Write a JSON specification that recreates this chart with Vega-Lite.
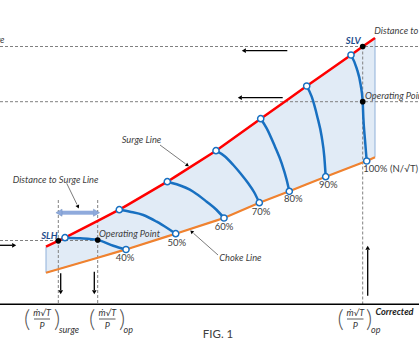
{
  "$schema": "https://vega.github.io/schema/vega-lite/v6.json",
  "width": 419,
  "height": 350,
  "autosize": {"type": "none"},
  "padding": 0,
  "background": "white",
  "config": {"view": {"stroke": null}, "text": {"font": "Lato"}},
  "datasets": {
    "band": [
      {"x": 46, "surge": 246.7, "choke": 272.7},
      {"x": 65, "surge": 237.7, "choke": 267.2},
      {"x": 97.7, "surge": 220.8, "choke": 257.7},
      {"x": 119.3, "surge": 209.7, "choke": 251.4},
      {"x": 126, "surge": 205.8, "choke": 249.5},
      {"x": 167.3, "surge": 181.7, "choke": 236.4},
      {"x": 175.7, "surge": 176.4, "choke": 233.7},
      {"x": 216, "surge": 150.7, "choke": 220.6},
      {"x": 224, "surge": 145.0, "choke": 218},
      {"x": 259.3, "surge": 119.7, "choke": 202.7},
      {"x": 260.7, "surge": 118.7, "choke": 202.2},
      {"x": 289.3, "surge": 98.4, "choke": 191.3},
      {"x": 306.7, "surge": 86, "choke": 184.3},
      {"x": 325.7, "surge": 72.7, "choke": 176.7},
      {"x": 351, "surge": 55, "choke": 167.0},
      {"x": 362.7, "surge": 46.5, "choke": 162.5},
      {"x": 366.7, "surge": 43.7, "choke": 161},
      {"x": 375, "surge": 38, "choke": 157.3}
    ],
    "speeds": [
      {"speed": "40", "x": 65, "y": 237.7},
      {"speed": "40", "x": 80, "y": 238.3},
      {"speed": "40", "x": 97.7, "y": 240},
      {"speed": "40", "x": 113.3, "y": 245.7},
      {"speed": "40", "x": 126, "y": 249.5},
      {"speed": "50", "x": 119.3, "y": 209.7},
      {"speed": "50", "x": 130, "y": 211.7},
      {"speed": "50", "x": 143.3, "y": 215},
      {"speed": "50", "x": 156.7, "y": 221.7},
      {"speed": "50", "x": 168.3, "y": 228.8},
      {"speed": "50", "x": 175.7, "y": 233.7},
      {"speed": "60", "x": 167.3, "y": 181.7},
      {"speed": "60", "x": 176.7, "y": 184.3},
      {"speed": "60", "x": 193.3, "y": 191.7},
      {"speed": "60", "x": 206.7, "y": 201.7},
      {"speed": "60", "x": 216.7, "y": 210},
      {"speed": "60", "x": 224, "y": 218},
      {"speed": "70", "x": 216, "y": 150.7},
      {"speed": "70", "x": 225, "y": 156.5},
      {"speed": "70", "x": 233.3, "y": 165},
      {"speed": "70", "x": 241, "y": 174},
      {"speed": "70", "x": 248, "y": 183},
      {"speed": "70", "x": 254, "y": 192},
      {"speed": "70", "x": 259.3, "y": 202.7},
      {"speed": "80", "x": 260.7, "y": 118.7},
      {"speed": "80", "x": 266.7, "y": 128.3},
      {"speed": "80", "x": 275, "y": 146.7},
      {"speed": "80", "x": 281.7, "y": 163.3},
      {"speed": "80", "x": 286.7, "y": 180},
      {"speed": "80", "x": 289.3, "y": 191.3},
      {"speed": "90", "x": 306.7, "y": 86},
      {"speed": "90", "x": 311.7, "y": 96.7},
      {"speed": "90", "x": 317.3, "y": 116.7},
      {"speed": "90", "x": 321.7, "y": 136.7},
      {"speed": "90", "x": 324.3, "y": 156.7},
      {"speed": "90", "x": 325.7, "y": 176.7},
      {"speed": "100", "x": 351, "y": 55},
      {"speed": "100", "x": 356.7, "y": 68.3},
      {"speed": "100", "x": 360.7, "y": 85},
      {"speed": "100", "x": 362.7, "y": 101.7},
      {"speed": "100", "x": 363.3, "y": 116.7},
      {"speed": "100", "x": 365, "y": 140},
      {"speed": "100", "x": 366.7, "y": 161}
    ],
    "dashes": [
      {"x": 0, "x2": 419, "y": 46.5, "y2": 46.5},
      {"x": 0, "x2": 419, "y": 101.7, "y2": 101.7},
      {"x": 0, "x2": 97.7, "y": 240.5, "y2": 240.5},
      {"x": 58.3, "x2": 58.3, "y": 200, "y2": 304},
      {"x": 97.7, "x2": 97.7, "y": 200, "y2": 304},
      {"x": 362.7, "x2": 362.7, "y": 46.5, "y2": 304}
    ],
    "arrows": [
      {"x": 287.3, "y": 50.7, "x2": 246, "y2": 50.7},
      {"x": 282.7, "y": 97.7, "x2": 242, "y2": 97.7},
      {"x": 0, "y": 245.3, "x2": 12, "y2": 245.3},
      {"x": 60.7, "y": 273.3, "x2": 60.7, "y2": 290},
      {"x": 94.3, "y": 271.7, "x2": 94.3, "y2": 290},
      {"x": 367.7, "y": 295.7, "x2": 367.7, "y2": 250}
    ],
    "heads": [
      {"x": 244.5, "y": 50.7, "ang": 270},
      {"x": 240.5, "y": 97.7, "ang": 270},
      {"x": 13.5, "y": 245.3, "ang": 90},
      {"x": 60.7, "y": 291.5, "ang": 180},
      {"x": 94.3, "y": 291.5, "ang": 180},
      {"x": 367.7, "y": 248.5, "ang": 0}
    ],
    "notes": [
      {"x": 160, "y": 145, "x2": 185.5, "y2": 163.8},
      {"x": 218, "y": 255, "x2": 193.5, "y2": 233.3},
      {"x": 66.7, "y": 183.3, "x2": 77, "y2": 204.5}
    ],
    "noteHeads": [
      {"x": 187, "y": 165, "ang": 126.5},
      {"x": 192, "y": 232, "ang": 311.5},
      {"x": 77.8, "y": 206.3, "ang": 154.4}
    ],
    "dbl": [{"x": 62, "y": 212.7, "x2": 93.5, "y2": 212.7}],
    "dblHeads": [
      {"x": 60, "y": 212.7, "ang": 270},
      {"x": 95.5, "y": 212.7, "ang": 90}
    ],
    "axisLine": [{"x": 0, "y": 304.3, "x2": 419, "y2": 304.3}],
    "bars": [
      {"x": 34, "y": 319, "x2": 50, "y2": 319},
      {"x": 99, "y": 319, "x2": 115.5, "y2": 319},
      {"x": 347, "y": 319, "x2": 363.5, "y2": 319}
    ],
    "openPts": [
      {"x": 65, "y": 237.7}, {"x": 126, "y": 249.5},
      {"x": 119.3, "y": 209.7}, {"x": 175.7, "y": 233.7},
      {"x": 167.3, "y": 181.7}, {"x": 224, "y": 218},
      {"x": 216, "y": 150.7}, {"x": 259.3, "y": 202.7},
      {"x": 260.7, "y": 118.7}, {"x": 289.3, "y": 191.3},
      {"x": 306.7, "y": 86}, {"x": 325.7, "y": 176.7},
      {"x": 351, "y": 55}, {"x": 366.7, "y": 161}
    ],
    "blackPts": [
      {"x": 58.3, "y": 240.8}, {"x": 97.7, "y": 240},
      {"x": 362.7, "y": 46.5}, {"x": 362.7, "y": 101.7}
    ],
    "itLabels": [
      {"x": 121.7, "y": 139.5, "text": "Surge Line"},
      {"x": 219.3, "y": 258.3, "text": "Choke Line"},
      {"x": 12.7, "y": 180, "text": "Distance to Surge Line"},
      {"x": 99, "y": 234, "text": "Operating Point"},
      {"x": 365, "y": 96, "text": "Operating Point"},
      {"x": 374.3, "y": 31, "text": "Distance to Surge Line"},
      {"x": -17, "y": 40, "text": "Surge"}
    ],
    "pct": [
      {"x": 125, "y": 257.7, "text": "40%"},
      {"x": 176.7, "y": 242.7, "text": "50%"},
      {"x": 224, "y": 226.5, "text": "60%"},
      {"x": 261, "y": 211.7, "text": "70%"},
      {"x": 293.3, "y": 199, "text": "80%"},
      {"x": 328.3, "y": 185, "text": "90%"}
    ],
    "pctLeft": [{"x": 363.3, "y": 169, "text": "100%  (N/√T)"}],
    "blueLabels": [
      {"x": 49.3, "y": 236, "text": "SLH"},
      {"x": 353.3, "y": 41, "text": "SLV"}
    ],
    "fig": [{"x": 218, "y": 335, "text": "FIG. 1"}],
    "corr": [{"x": 375.5, "y": 311.7, "text": "Corrected"}],
    "fracText": [
      {"x": 42, "y": 313, "text": "ṁ√T"},
      {"x": 107.3, "y": 313, "text": "ṁ√T"},
      {"x": 355.3, "y": 313, "text": "ṁ√T"},
      {"x": 42, "y": 325.5, "text": "P"},
      {"x": 107.3, "y": 325.5, "text": "P"},
      {"x": 355.3, "y": 325.5, "text": "P"}
    ],
    "subs": [
      {"x": 59, "y": 330, "text": "surge"},
      {"x": 123.5, "y": 330, "text": "op"},
      {"x": 371, "y": 330, "text": "op"}
    ],
    "parens": [
      {"x": 27, "y": 319.5, "text": "("},
      {"x": 57, "y": 319.5, "text": ")"},
      {"x": 92, "y": 319.5, "text": "("},
      {"x": 122, "y": 319.5, "text": ")"},
      {"x": 340.5, "y": 319.5, "text": "("},
      {"x": 369, "y": 319.5, "text": ")"}
    ]
  },
  "layer": [
    {
      "data": {"name": "band"},
      "mark": {"type": "area", "fill": "#e1ebf6", "stroke": "#8fb0d9", "strokeWidth": 1},
      "encoding": {
        "x": {"field": "x", "type": "quantitative", "scale": {"domain": [0, 419], "nice": false, "zero": false}, "axis": null},
        "y": {"field": "surge", "type": "quantitative", "scale": {"domain": [0, 350], "nice": false, "zero": false, "reverse": true}, "axis": null},
        "y2": {"field": "choke"}
      }
    },
    {
      "data": {"name": "dashes"},
      "mark": {"type": "rule", "stroke": "#808080", "strokeWidth": 1, "strokeDash": [3, 2]},
      "encoding": {
        "x": {"field": "x", "type": "quantitative", "axis": null},
        "x2": {"field": "x2"},
        "y": {"field": "y", "type": "quantitative", "axis": null},
        "y2": {"field": "y2"}
      }
    },
    {
      "data": {"name": "band"},
      "mark": {"type": "line", "stroke": "#ff0000", "strokeWidth": 2.5},
      "encoding": {
        "x": {"field": "x", "type": "quantitative", "axis": null},
        "y": {"field": "surge", "type": "quantitative", "axis": null}
      }
    },
    {
      "data": {"name": "band"},
      "mark": {"type": "line", "stroke": "#f0822f", "strokeWidth": 2.2},
      "encoding": {
        "x": {"field": "x", "type": "quantitative", "axis": null},
        "y": {"field": "choke", "type": "quantitative", "axis": null}
      }
    },
    {
      "data": {"name": "speeds"},
      "mark": {"type": "line", "stroke": "#1870c1", "strokeWidth": 2.5, "interpolate": "monotone"},
      "encoding": {
        "x": {"field": "x", "type": "quantitative", "axis": null},
        "y": {"field": "y", "type": "quantitative", "axis": null},
        "detail": {"field": "speed"}
      }
    },
    {
      "data": {"name": "arrows"},
      "mark": {"type": "rule", "stroke": "black", "strokeWidth": 1.3},
      "encoding": {
        "x": {"field": "x", "type": "quantitative", "axis": null},
        "x2": {"field": "x2"},
        "y": {"field": "y", "type": "quantitative", "axis": null},
        "y2": {"field": "y2"}
      }
    },
    {
      "data": {"name": "heads"},
      "mark": {"type": "point", "shape": "triangle", "filled": true, "fill": "black", "size": 22, "opacity": 1},
      "encoding": {
        "x": {"field": "x", "type": "quantitative", "axis": null},
        "y": {"field": "y", "type": "quantitative", "axis": null},
        "angle": {"field": "ang", "type": "quantitative", "scale": null}
      }
    },
    {
      "data": {"name": "notes"},
      "mark": {"type": "rule", "stroke": "#595959", "strokeWidth": 0.8},
      "encoding": {
        "x": {"field": "x", "type": "quantitative", "axis": null},
        "x2": {"field": "x2"},
        "y": {"field": "y", "type": "quantitative", "axis": null},
        "y2": {"field": "y2"}
      }
    },
    {
      "data": {"name": "noteHeads"},
      "mark": {"type": "point", "shape": "triangle", "filled": true, "fill": "black", "size": 16, "opacity": 1},
      "encoding": {
        "x": {"field": "x", "type": "quantitative", "axis": null},
        "y": {"field": "y", "type": "quantitative", "axis": null},
        "angle": {"field": "ang", "type": "quantitative", "scale": null}
      }
    },
    {
      "data": {"name": "dbl"},
      "mark": {"type": "rule", "stroke": "#8faadc", "strokeWidth": 4},
      "encoding": {
        "x": {"field": "x", "type": "quantitative", "axis": null},
        "x2": {"field": "x2"},
        "y": {"field": "y", "type": "quantitative", "axis": null},
        "y2": {"field": "y2"}
      }
    },
    {
      "data": {"name": "dblHeads"},
      "mark": {"type": "point", "shape": "triangle", "filled": true, "fill": "#8faadc", "stroke": "#6f8fc0", "strokeWidth": 0.5, "size": 50, "opacity": 1},
      "encoding": {
        "x": {"field": "x", "type": "quantitative", "axis": null},
        "y": {"field": "y", "type": "quantitative", "axis": null},
        "angle": {"field": "ang", "type": "quantitative", "scale": null}
      }
    },
    {
      "data": {"name": "axisLine"},
      "mark": {"type": "rule", "stroke": "black", "strokeWidth": 1.6},
      "encoding": {
        "x": {"field": "x", "type": "quantitative", "axis": null},
        "x2": {"field": "x2"},
        "y": {"field": "y", "type": "quantitative", "axis": null},
        "y2": {"field": "y2"}
      }
    },
    {
      "data": {"name": "bars"},
      "mark": {"type": "rule", "stroke": "#333333", "strokeWidth": 0.8},
      "encoding": {
        "x": {"field": "x", "type": "quantitative", "axis": null},
        "x2": {"field": "x2"},
        "y": {"field": "y", "type": "quantitative", "axis": null},
        "y2": {"field": "y2"}
      }
    },
    {
      "data": {"name": "openPts"},
      "mark": {"type": "point", "shape": "circle", "filled": true, "fill": "white", "stroke": "#1870c1", "strokeWidth": 1.5, "size": 38, "opacity": 1},
      "encoding": {
        "x": {"field": "x", "type": "quantitative", "axis": null},
        "y": {"field": "y", "type": "quantitative", "axis": null}
      }
    },
    {
      "data": {"name": "blackPts"},
      "mark": {"type": "point", "shape": "circle", "filled": true, "fill": "black", "size": 32, "opacity": 1},
      "encoding": {
        "x": {"field": "x", "type": "quantitative", "axis": null},
        "y": {"field": "y", "type": "quantitative", "axis": null}
      }
    },
    {
      "data": {"name": "itLabels"},
      "mark": {"type": "text", "align": "left", "baseline": "middle", "fontStyle": "italic", "fontSize": 9.3, "fill": "#404040"},
      "encoding": {
        "x": {"field": "x", "type": "quantitative", "axis": null},
        "y": {"field": "y", "type": "quantitative", "axis": null},
        "text": {"field": "text"}
      }
    },
    {
      "data": {"name": "pct"},
      "mark": {"type": "text", "align": "center", "baseline": "middle", "fontSize": 9.5, "fill": "#404040"},
      "encoding": {
        "x": {"field": "x", "type": "quantitative", "axis": null},
        "y": {"field": "y", "type": "quantitative", "axis": null},
        "text": {"field": "text"}
      }
    },
    {
      "data": {"name": "pctLeft"},
      "mark": {"type": "text", "align": "left", "baseline": "middle", "fontSize": 9.5, "fill": "#404040"},
      "encoding": {
        "x": {"field": "x", "type": "quantitative", "axis": null},
        "y": {"field": "y", "type": "quantitative", "axis": null},
        "text": {"field": "text"}
      }
    },
    {
      "data": {"name": "blueLabels"},
      "mark": {"type": "text", "align": "center", "baseline": "middle", "fontSize": 9.5, "fontStyle": "italic", "fontWeight": "bold", "fill": "#1f4e8c"},
      "encoding": {
        "x": {"field": "x", "type": "quantitative", "axis": null},
        "y": {"field": "y", "type": "quantitative", "axis": null},
        "text": {"field": "text"}
      }
    },
    {
      "data": {"name": "fig"},
      "mark": {"type": "text", "align": "center", "baseline": "middle", "fontSize": 11.5, "fill": "#404040"},
      "encoding": {
        "x": {"field": "x", "type": "quantitative", "axis": null},
        "y": {"field": "y", "type": "quantitative", "axis": null},
        "text": {"field": "text"}
      }
    },
    {
      "data": {"name": "corr"},
      "mark": {"type": "text", "align": "left", "baseline": "middle", "fontSize": 9.2, "fontStyle": "italic", "fontWeight": "bold", "fill": "#222222"},
      "encoding": {
        "x": {"field": "x", "type": "quantitative", "axis": null},
        "y": {"field": "y", "type": "quantitative", "axis": null},
        "text": {"field": "text"}
      }
    },
    {
      "data": {"name": "fracText"},
      "mark": {"type": "text", "align": "center", "baseline": "middle", "fontSize": 9, "fontStyle": "italic", "fill": "#333333"},
      "encoding": {
        "x": {"field": "x", "type": "quantitative", "axis": null},
        "y": {"field": "y", "type": "quantitative", "axis": null},
        "text": {"field": "text"}
      }
    },
    {
      "data": {"name": "subs"},
      "mark": {"type": "text", "align": "left", "baseline": "middle", "fontSize": 9, "fontStyle": "italic", "fill": "#333333"},
      "encoding": {
        "x": {"field": "x", "type": "quantitative", "axis": null},
        "y": {"field": "y", "type": "quantitative", "axis": null},
        "text": {"field": "text"}
      }
    },
    {
      "data": {"name": "parens"},
      "mark": {"type": "text", "align": "center", "baseline": "middle", "fontSize": 24, "fontWeight": 300, "fill": "#555555"},
      "encoding": {
        "x": {"field": "x", "type": "quantitative", "axis": null},
        "y": {"field": "y", "type": "quantitative", "axis": null},
        "text": {"field": "text"}
      }
    }
  ]
}
